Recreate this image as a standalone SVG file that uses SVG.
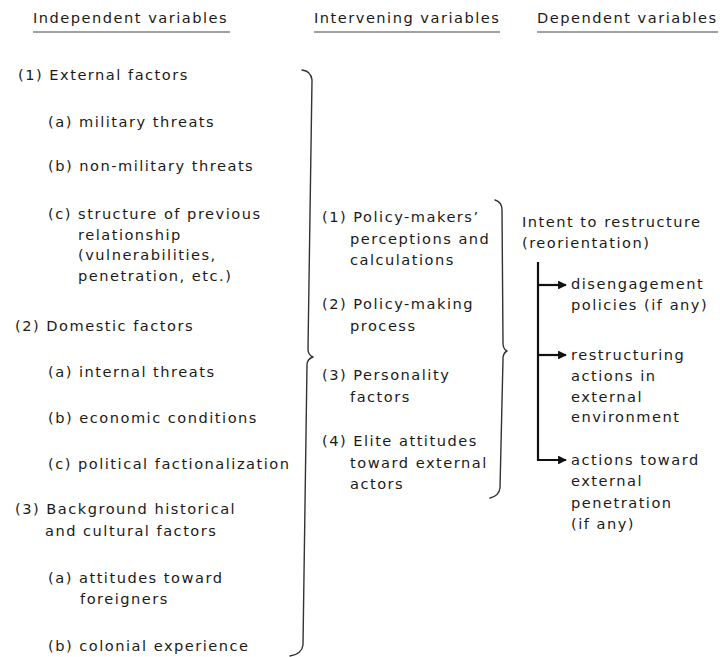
<svg xmlns="http://www.w3.org/2000/svg" width="720" height="657" viewBox="0 0 720 657">
<defs>
<style>
text{font-family:"DejaVu Sans","Liberation Sans",Arial,sans-serif;font-size:14.6px;letter-spacing:1.5px;fill:#1a1a1a}
.ul{stroke:#444;stroke-width:1.2}
.br{fill:none;stroke:#333;stroke-width:1.4;stroke-linecap:round;stroke-linejoin:round}
.ar{fill:none;stroke:#111;stroke-width:2.2}
</style>
<marker id="ah" viewBox="0 0 10 10" refX="9" refY="5" markerWidth="4.5" markerHeight="4" orient="auto" markerUnits="strokeWidth">
<path d="M0,0 L10,5 L0,10 z" fill="#111"/>
</marker>
</defs>
<rect width="720" height="657" fill="#fff"/>
<g id="headers">
<g id="h-independent"><text x="33" y="23">Independent variables</text><line class="ul" x1="33" y1="32" x2="230" y2="32"/></g>
<g id="h-intervening"><text x="314" y="23">Intervening variables</text><line class="ul" x1="314" y1="32" x2="500" y2="32"/></g>
<g id="h-dependent"><text x="537" y="23">Dependent variables</text><line class="ul" x1="537" y1="32" x2="718" y2="32"/></g>
</g>
<g id="independent">
<g id="ext"><text x="18" y="80">(1) External factors</text></g>
<g id="ext-a"><text x="48" y="127">(a) military threats</text></g>
<g id="ext-b"><text x="48" y="171">(b) non-military threats</text></g>
<g id="ext-c"><text x="48" y="219">(c) structure of previous</text><text x="78" y="240">relationship</text><text x="78" y="260">(vulnerabilities,</text><text x="78" y="281">penetration, etc.)</text></g>
<g id="dom"><text x="15" y="331">(2) Domestic factors</text></g>
<g id="dom-a"><text x="48" y="377">(a) internal threats</text></g>
<g id="dom-b"><text x="48" y="423">(b) economic conditions</text></g>
<g id="dom-c"><text x="48" y="469">(c) political factionalization</text></g>
<g id="bg"><text x="15" y="514">(3) Background historical</text><text x="45" y="536">and cultural factors</text></g>
<g id="bg-a"><text x="48" y="583">(a) attitudes toward</text><text x="80" y="604">foreigners</text></g>
<g id="bg-b"><text x="48" y="651">(b) colonial experience</text></g>
</g>
<g id="intervening">
<g id="int-1"><text x="322" y="222">(1) Policy-makers’</text><text x="350" y="244">perceptions and</text><text x="350" y="265">calculations</text></g>
<g id="int-2"><text x="322" y="309">(2) Policy-making</text><text x="350" y="331">process</text></g>
<g id="int-3"><text x="322" y="380">(3) Personality</text><text x="350" y="402">factors</text></g>
<g id="int-4"><text x="322" y="446">(4) Elite attitudes</text><text x="350" y="468">toward external</text><text x="350" y="489">actors</text></g>
</g>
<g id="dependent">
<g id="intent"><text x="522" y="227">Intent to restructure</text><text x="522" y="248">(reorientation)</text></g>
<g id="dep-1"><text x="571" y="289">disengagement</text><text x="571" y="310">policies (if any)</text></g>
<g id="dep-2"><text x="571" y="360">restructuring</text><text x="571" y="381">actions in</text><text x="571" y="402">external</text><text x="571" y="422">environment</text></g>
<g id="dep-3"><text x="571" y="465">actions toward</text><text x="571" y="486">external</text><text x="571" y="508">penetration</text><text x="571" y="529">(if any)</text></g>
</g>
<g id="connectors">
<path class="br" d="M302,70 Q311,71 312,80 L308,349 Q308,355 313,357 Q307,359 307,365 L303,645 Q302,654 290,656"/>
<path class="br" d="M495,200 Q502,202 502,210 L503,343 Q503,349 507,351 Q503,353 503,359 L500,488 Q499,496 490,498"/>
<path class="ar" d="M538,262 L538,460 L566,460" marker-end="url(#ah)"/>
<path class="ar" d="M538,285 L566,285" marker-end="url(#ah)"/>
<path class="ar" d="M538,355 L566,355" marker-end="url(#ah)"/>
</g>
</svg>
